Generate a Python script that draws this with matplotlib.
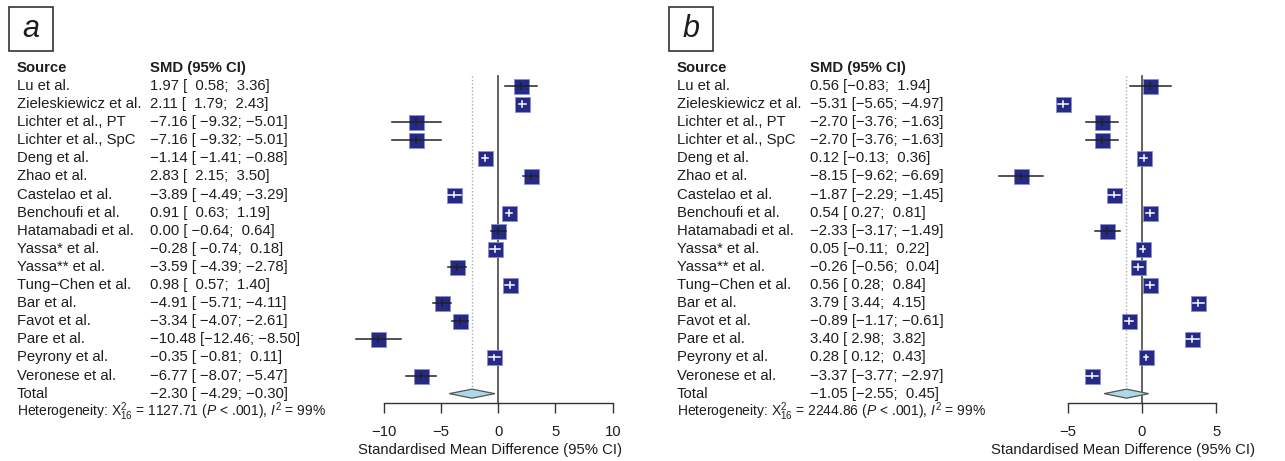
import matplotlib.pyplot as plt
from matplotlib.patches import Polygon, Rectangle
from matplotlib.transforms import blended_transform_factory

plt.rcParams['font.family'] = ['Liberation Sans', 'DejaVu Sans']
plt.rcParams['mathtext.fontset'] = 'custom'
plt.rcParams['mathtext.rm'] = 'Liberation Sans'
plt.rcParams['mathtext.it'] = 'Liberation Sans:italic'

# ---- data ----
studies = ["Lu et al.", "Zieleskiewicz et al.", "Lichter et al., PT", "Lichter et al., SpC",
           "Deng et al.", "Zhao et al.", "Castelao et al.", "Benchoufi et al.",
           "Hatamabadi et al.", "Yassa* et al.", "Yassa** et al.", "Tung\u2212Chen et al.",
           "Bar et al.", "Favot et al.", "Pare et al.", "Peyrony et al.", "Veronese et al."]

smd_a = [1.97, 2.11, -7.16, -7.16, -1.14, 2.83, -3.89, 0.91, 0.00, -0.28, -3.59, 0.98,
         -4.91, -3.34, -10.48, -0.35, -6.77]
lo_a = [0.58, 1.79, -9.32, -9.32, -1.41, 2.15, -4.49, 0.63, -0.64, -0.74, -4.39, 0.57,
        -5.71, -4.07, -12.46, -0.81, -8.07]
hi_a = [3.36, 2.43, -5.01, -5.01, -0.88, 3.50, -3.29, 1.19, 0.64, 0.18, -2.78, 1.40,
        -4.11, -2.61, -8.50, 0.11, -5.47]
total_a = [-2.30, -4.29, -0.30]
chi_a = "1127.71"

smd_b = [0.56, -5.31, -2.70, -2.70, 0.12, -8.15, -1.87, 0.54, -2.33, 0.05, -0.26, 0.56,
         3.79, -0.89, 3.40, 0.28, -3.37]
lo_b = [-0.83, -5.65, -3.76, -3.76, -0.13, -9.62, -2.29, 0.27, -3.17, -0.11, -0.56, 0.28,
        3.44, -1.17, 2.98, 0.12, -3.77]
hi_b = [1.94, -4.97, -1.63, -1.63, 0.36, -6.69, -1.45, 0.81, -1.49, 0.22, 0.04, 0.84,
        4.15, -0.61, 3.82, 0.43, -2.97]
total_b = [-1.05, -2.55, 0.45]
chi_b = "2244.86"

W, H = 1285, 461
fig = plt.figure(figsize=(W / 100, H / 100), dpi=100)

TXT = '#1e1e1e'
BOX = '#262a87'
FS = 10.7


def fmt(v):
    return f"{v:.2f}".replace('-', '\u2212')


def panel(letter, dx, zero_px, scale, xlim, ticks, smd, lo, hi, total, chi):
    n = len(studies)
    left = zero_px + xlim[0] * scale
    right = zero_px + xlim[1] * scale
    ax = fig.add_axes([left / W, 1 - 402.7 / H, (right - left) / W, 343.85 / H])
    ax.set_xlim(*xlim)
    ax.set_ylim(17.5, -1.5)
    for s in ['top', 'left', 'right']:
        ax.spines[s].set_visible(False)
    ax.spines['bottom'].set_bounds(ticks[0], ticks[-1])
    ax.spines['bottom'].set_color('#333333')
    ax.spines['bottom'].set_linewidth(1.0)
    ax.set_yticks([])
    ax.set_xticks(ticks)
    ax.set_xticklabels([fmt(t)[:-3] for t in ticks])
    ax.tick_params(axis='x', direction='out', length=7.2, width=1.0, color='#333333',
                   labelsize=FS, labelcolor=TXT, pad=8.5)
    ax.set_xlabel('Standardised Mean Difference (95% CI)', fontsize=FS, color=TXT, labelpad=3)

    # reference lines
    ax.plot([0, 0], [-0.55, 17.5], color='#555555', lw=1.3, zorder=1)
    ax.plot([total[0], total[0]], [-0.55, n - 0.25], color='#aaaaaa', lw=1.0,
            ls=(0, (1, 1.5)), zorder=1)

    box_w = 14.2 / scale
    for k in range(n):
        ax.plot(smd[k], k, 's', ms=10.8, mfc=BOX, mec='#8a8fd0', mew=0.6, zorder=3)
        c = 'white' if (hi[k] - lo[k]) < box_w else '#222222'
        ax.plot([lo[k], hi[k]], [k, k], color=c, lw=1.1, zorder=4, clip_on=False)
        ax.plot([smd[k], smd[k]], [k - 0.16, k + 0.16], color=c, lw=1.1, zorder=4)

    dia = Polygon([[total[1], n], [total[0], n - 0.25], [total[2], n], [total[0], n + 0.25]],
                  closed=True, fc='#add8e6', ec='#555555', lw=0.9, zorder=3, clip_on=False)
    ax.add_patch(dia)

    # text table
    tr = blended_transform_factory(fig.transFigure, ax.transData)
    x_src = (17 + dx) / W
    x_smd = (150 + dx) / W
    ax.text(x_src, -1, 'Source', transform=tr, fontsize=FS, fontweight='bold', color=TXT,
            va='center', ha='left', clip_on=False)
    ax.text(x_smd, -1, 'SMD (95% CI)', transform=tr, fontsize=FS, fontweight='bold',
            color=TXT, va='center', ha='left', clip_on=False)
    los = [fmt(v) for v in lo + [total[1]]]
    his = [fmt(v) for v in hi + [total[2]]]
    wl = max(len(s) for s in los)
    wh = max(len(s) for s in his)
    names = studies + ['Total']
    ests = smd + [total[0]]
    for k in range(n + 1):
        ax.text(x_src, k, names[k], transform=tr, fontsize=FS, color=TXT,
                va='center', ha='left', clip_on=False)
        row = fmt(ests[k]) + ' [' + los[k].rjust(wl) + '; ' + his[k].rjust(wh) + ']'
        ax.text(x_smd, k, row, transform=tr, fontsize=FS, color=TXT,
                va='center', ha='left', clip_on=False)
    het = (r'Heterogeneity: $\mathregular{X}^2_{16}$ = ' + chi +
           r' ($P$ < .001), $I^2$ = 99%')
    ax.text(x_src, n + 1, het, transform=tr, fontsize=10, color=TXT,
            va='center', ha='left', clip_on=False)

    # panel letter box
    bx = 9 + dx
    fig.add_artist(Rectangle((bx / W, 1 - 51 / H), 44 / W, 44 / H, transform=fig.transFigure,
                             fill=False, ec='#333333', lw=1.2))
    fig.text((bx + 22) / W, 1 - 29 / H, letter, fontsize=22, style='italic', color=TXT,
             ha='center', va='center')


panel('a', 0, 498.3, 11.44, (-14.0, 12.5), [-10, -5, 0, 5, 10],
      smd_a, lo_a, hi_a, total_a, chi_a)
panel('b', 660, 1142.0, 14.83, (-10.5, 8.0), [-5, 0, 5],
      smd_b, lo_b, hi_b, total_b, chi_b)

fig.savefig('out.png', dpi=100)
